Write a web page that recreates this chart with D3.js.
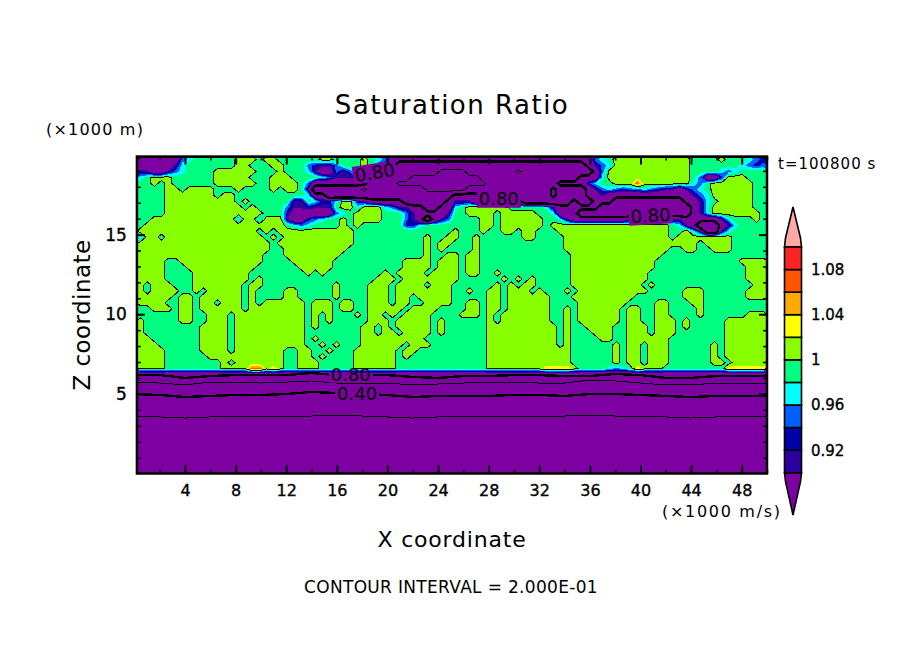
<!DOCTYPE html>
<html><head><meta charset="utf-8">
<script src="https://cdn.jsdelivr.net/npm/d3@7/dist/d3.min.js"></script>
<style>
html,body{margin:0;padding:0;background:#fff}
svg{display:block}
text{font-family:"DejaVu Sans",sans-serif;fill:#000}
</style></head><body>
<svg id="c" width="904" height="654"></svg>
<script>
// ---- chart text and tick values ----
const titleText = "Saturation Ratio";
const xTicksMajor = [4,8,12,16,20,24,28,32,36,40,44,48];
const xTicksMinor = [2,6,10,14,18,22,26,30,34,38,42,46,50];
const zTicksMajor = [5,10,15];
const zTicksMinor = [1,2,3,4,6,7,8,9,11,12,13,14,16,17,18,19];
const barBoundaries = [0.90,0.92,0.94,0.96,0.98,1.00,1.02,1.04,1.06,1.08,1.10];
const barColors = ["#2d00a0","#0000aa","#0060ff","#00ffff","#00ff80","#88ff00","#ffff00","#ffaa00","#ff5500","#ff2424"];
const barLabels = [0.92,0.96,1.00,1.04,1.08];
const underColor = "#7d00a0", overColor = "#ffa8a8";
// ---- saturation ratio by letter ----
const letterValue = {e:.55,d:.70,p:.85,i:.91,n:.93,b:.95,c:.97,g:.99,L:1.01,y:1.03,o:1.05,r:1.07};
// ---- field, top to bottom, run-length coded by letter ----
const fieldWest = [
"6p b c 6g 3L g 2L 6g 2L 4g L g c b 9p",
"5p i c 7g 2L 3g 2L 3g b n 2i b 3g L g b i p 8d",
"2i 2p i b c 4g 6L 3g L 3g c i 2p b i b g L g b i p 6d 2e",
"c g 3L 6g 5L 3g 3L 4g c b 3i b p 6d 6e",
"2g L g L 6g 6L 2g 4L g b 8p 4d 8e",
"4g 2L g 4L 3g L 4g L g 2L g i 7d e 8d 4e",
"4g 7L g 2L 10g c 2p 18d",
"4g 10L g L 6g 2i g c 2n c 2L n i 5p 6d p",
"4g 11L g L 4g b 2i n 3i g 2L c 3L c b 2i 2p 2d 2p",
"4g 14L 3g n 6p b c g L 3L 3g b i 4p i",
"2g 12L c 2L c 3L i 2p n b c 2g L g L 3L 3g b i p d p i b",
"g 20L g c b c 4g L g L 6g 2n c 4g",
"17L g L g 11L 14g",
"c 2L g 14L g L g 10L 10g L 2g L",
"19L g 11L 10g L g 2L",
"19L 2g 9L 11g L g L g",
"18L 3g 8L 12g L 2g L",
"4L 2g 12L 4g 6L 10g 4L g 3L",
"4L 3g 10L 6g 5L 10g 4L g 3L",
"4L 4g 8L 8g L g L 8g L g 4L g 3L",
"4L 4g 8L g L 16g 3L g 7L",
"L g 3L 3g 7L g 2L 10g L 4g 3L g 4L g 3L",
"L g 4L 2g L g 5L g L 4g 2L 5g L 4g 3L g 8L",
"5L g 2L g 6L g L 4g 2L 5g L 4g 3L g 2L g 5L",
"4L 2g 2L g 2L g 3L g L g 6L g 3L g 2L 2g 3L g 2L 2g 4L",
"2g 3L g 2L g 6L g 8L g 3L g 2L 2g 5L g 4L 2g",
"6g 2L 2g 3L g 10L g L g L 3g L g 2L g L g 4L 3g",
"L 5g 2L 2g 3L g L 9L g L g L 5g 3L g 5L g L g",
"L 8g 4L g 10L g L 6g 2L g L g L 4L g L g",
"L 8g 4L g 10L 8g 2L g 2L g 4L g L g",
"2L 7g 4L g 10L g L 6g 6L 3L 4g",
"3L 6g 4L g 10L 2g L g L 3g 6L g 3L 3g",
"4L 5g 4L g 7L 2g 2L 2g L 3g 6L g 2L 5g",
"4L 6g 11L 2g 2L g L 4g 6L g L 6g",
"4L 8g L g 7L 2g 2L L 5g 6L 8g",
"4L 8g 4L 2r L y L 2g 2L L 5g 6L 8g",
"45p"];
const fieldEast = [
"20p b c g 11L 4g L 2g g c b n",
"19d p i b c 11L 7g c b n b",
"2e 7d e 9d d p b 12L 4g c b c 4g",
"4e 14d 3p c 12L g b 2p n 3L 3g",
"5e 10d 4p n c 2g 3L r 7L c b g 6L 2g",
"2e 12d p 4d p i b c b n 2b c b n 2i p i b c g 6L 2g",
"5p 9d p 4d 2p i 12p i b c 6L 2g",
"3i 7p 7d p 2d 3p 10d 2p i c g 5L 2g",
"c g 6L 5g c i 6p 13d p i c 6L 2g",
"2g 4L g 5L 2g c 3p 16d p i c 7L g",
"4g 2L g 6L 2g c i 8p 2i 3n n 2i 5p i c 3g L g",
"4g 2L g 6L g 17L g c i p 3d p i c 4g",
"L 3g L 2g 2L g 2L 3g 16L 2g L c i 2d i c 5g",
"L 2g L 6g 2L 4g 15L g 4L 4L 5g",
"3g L 12g 17L 2L g 4L 5g",
"3g L 12g 15L 2g 2L 2g 3L 5g",
"L g 2L 13g 13L g 14g",
"L g 2L 13g 12L 12g 4L",
"L g 2L 13g 12L 13g 3L",
"L g 2L 2g L 10g 11L 14g 3L",
"L 6g L g L g L 5g 11L 14g 3L",
"6g L g L g 2L 5g 10L g L 14g 2L",
"2g L 2g 2L g 3L g L 3g L g 9L L 5g 3L 6g 3L",
"5g 2L g 6L 3g L 8L 7g 3L 6g 3L",
"2g 2L g 2L g 6L 4g 7L 4g 2L 3g 2L 9g",
"2g 2L g 2L g 6L 2g L g 6L g 2L 2g 2L 4g L 9g",
"g 3L g L g 7L 2g L g 6L g 2L 2g 2L 4g L 6g 3L",
"5g L g 7L 2g L g 6L g 2L 2g 3L g L 5g 6L",
"5g 10L g L 2g 4L 2g 3L g 3L g L 5g 6L",
"5g 10L g L 3g 3L 2g L 2L g 3L 7g 6L",
"5g 10L g L 4g 2L 2g 5L L 8g 6L",
"5g 10L g L 5g g L g 2L g 3L 6g L g 6L",
"5g 12L 6g L g 2L g 3L 6g L g 6L",
"5g 12L 6g L g 2L g 3L 6g L g 6L",
"5g 12L 6g L g 2L g 3L 6g 2L g 5L",
"5g 8L 4y L 4g c b c g y 3L 9g 6y",
"45p"];
// ---- lower contours, height (km) at every 2 km along x ----
const lowerX = [0,2,4,6,8,10,12,14,16,18,20,22,24,26,28,30,32,34,36,38,40,42,44,46,48,50];
const contour080 = [6.18,6.18,6.00,6.12,6.18,6.18,6.18,6.31,6.18,6.18,6.18,6.06,6.00,6.12,6.12,6.18,6.18,6.12,6.12,6.25,6.18,6.00,6.00,6.12,6.12,6.12];
const contour060 = [5.74,5.68,5.56,5.74,5.74,5.68,5.74,5.81,5.68,5.62,5.68,5.56,5.62,5.68,5.74,5.74,5.68,5.68,5.87,5.81,5.68,5.56,5.56,5.68,5.68,5.68];
const contour040 = [4.99,4.93,4.80,4.87,4.93,4.93,4.99,5.12,5.05,4.99,4.93,4.80,4.87,4.87,4.87,4.93,4.93,4.87,4.99,4.99,4.93,4.87,4.80,4.87,4.87,4.87];
const contour020 = [3.61,3.55,3.48,3.55,3.61,3.61,3.55,3.61,3.67,3.61,3.55,3.48,3.55,3.55,3.61,3.61,3.61,3.61,3.67,3.61,3.55,3.55,3.48,3.55,3.55,3.55];
const lineLevels = [0.6,0.8,1.0];
const lineWidths = {0.6:1,0.8:2.4,1:1};
const lowerLines = [[contour080,2.4],[contour060,1],[contour040,2.4],[contour020,1]];
const contourLabels = [
  {x:19.0,z:18.9,t:"0.80",r:-9,a:9,b:9},{x:28.8,z:17.25,t:"0.80",r:0,a:9,b:9},{x:40.8,z:16.2,t:"0.80",r:-3,a:9,b:9},
  {x:17.1,z:6.2,t:"0.80",r:0,a:2,b:8},{x:17.6,z:5.0,t:"0.40",r:0,a:8,b:8}];

// ---- scales ----
const svg = d3.select("#c");
const x = d3.scaleLinear([0,50],[134.4,767]);
const z = d3.scaleLinear([0,15],[473.5,234.6]);
const xMin=0.2, zTop=19.9, dz=0.375;
const plot = {l:x(xMin), r:x(50), t:z(zTop), b:z(0)};

// ---- decode the field ----
function decode(s){
  const out=[];
  (s.match(/\d*[a-zA-Z]/g)||[]).forEach(t=>{
    const n=t.length>1?+t.slice(0,-1):1, c=t[t.length-1];
    for(let i=0;i<n;i++) out.push(c);
  });
  while(out.length<45) out.push(out[out.length-1]);
  return out.slice(0,45);
}
const nx=90, ny=fieldWest.length;
const values=[];
for(let r=0;r<ny;r++){
  decode(fieldWest[r]).concat(decode(fieldEast[r])).forEach(c=>values.push(letterValue[c]));
}
const gx = i=>x(xMin+i*(50-xMin)/nx), gy = j=>z(zTop-j*dz);
const path = d3.geoPath(d3.geoTransform({point(a,b){this.stream.point(gx(a),gy(b));}}));

// ---- contour fills ----
const defs=svg.append("defs");
defs.append("clipPath").attr("id","clipLines").append("rect")
  .attr("x",plot.l).attr("y",plot.t).attr("width",plot.r-plot.l).attr("height",gy(ny)-plot.t-1.5);
defs.append("clipPath").attr("id","clipPlot").append("rect")
  .attr("x",plot.l).attr("y",plot.t).attr("width",plot.r-plot.l).attr("height",plot.b-plot.t);
svg.append("rect").attr("x",plot.l).attr("y",plot.t).attr("width",plot.r-plot.l).attr("height",plot.b-plot.t).attr("fill",underColor);
const fillColors = barColors.concat([overColor]);
const bands = d3.contours().size([nx,ny]).thresholds(barBoundaries)(values);
svg.append("g").attr("shape-rendering","crispEdges").selectAll("path").data(bands).join("path")
  .attr("d",path).attr("fill",(d,i)=>fillColors[i]);

// ---- contour lines ----
const lines = d3.contours().size([nx,ny]).thresholds(lineLevels)(values);
svg.append("g").attr("clip-path","url(#clipLines)").attr("shape-rendering","crispEdges")
  .selectAll("path").data(lines).join("path")
  .attr("d",path).attr("fill","none").attr("stroke","#000").attr("stroke-width",d=>lineWidths[d.value]);
const lineGen = d3.line().x((d,i)=>x(lowerX[i])).y(d=>z(d));
svg.append("g").attr("clip-path","url(#clipPlot)").attr("shape-rendering","crispEdges").selectAll("path").data(lowerLines).join("path")
  .attr("d",d=>lineGen(d[0])).attr("fill","none").attr("stroke","#000").attr("stroke-width",d=>d[1]);

// ---- contour labels, with the line broken behind them ----
const labG = svg.selectAll("g.lab").data(contourLabels).join("g").attr("class","lab")
  .attr("transform",d=>`translate(${x(d.x)},${z(d.z)}) rotate(${d.r})`);
labG.append("rect").attr("x",-22).attr("y",d=>-d.a).attr("width",44).attr("height",d=>d.a+d.b).attr("fill",underColor);
labG.append("text").attr("text-anchor","middle").attr("dy","0.36em").style("font-size","18px").text(d=>d.t);

// ---- frame and axes ----
function styleAxis(g,w){g.select(".domain").remove();g.selectAll("line").attr("stroke","#000").attr("stroke-width",w);}
const ax=svg.append("g");
ax.append("g").attr("transform",`translate(0,${plot.b})`)
  .call(d3.axisBottom(x).tickValues(xTicksMajor).tickSize(-8).tickFormat(d3.format("d")))
  .call(g=>{styleAxis(g,2);g.selectAll("text").attr("dy",null).attr("y",22).style("font-size","16px").style("fill","#000").style("stroke","#000").style("stroke-width",".35");});
ax.append("g").attr("transform",`translate(0,${plot.b})`)
  .call(d3.axisBottom(x).tickValues(xTicksMinor).tickSize(-4).tickFormat(""))
  .call(g=>styleAxis(g,1.5));
ax.append("g").attr("transform",`translate(0,${plot.t})`)
  .call(d3.axisTop(x).tickValues(xTicksMajor).tickSize(-8).tickFormat(""))
  .call(g=>styleAxis(g,2));
ax.append("g").attr("transform",`translate(0,${plot.t})`)
  .call(d3.axisTop(x).tickValues(xTicksMinor).tickSize(-4).tickFormat(""))
  .call(g=>styleAxis(g,1.5));
ax.append("g").attr("transform",`translate(${plot.l},0)`)
  .call(d3.axisLeft(z).tickValues(zTicksMajor).tickSize(-8).tickFormat(d3.format("d")))
  .call(g=>{styleAxis(g,2);g.selectAll("text").attr("x",-10).style("font-size","17px").style("fill","#000").style("stroke","#000").style("stroke-width",".35");});
ax.append("g").attr("transform",`translate(${plot.l},0)`)
  .call(d3.axisLeft(z).tickValues(zTicksMinor).tickSize(-4).tickFormat(""))
  .call(g=>styleAxis(g,1.5));
ax.append("g").attr("transform",`translate(${plot.r},0)`)
  .call(d3.axisRight(z).tickValues(zTicksMajor).tickSize(-8).tickFormat(""))
  .call(g=>styleAxis(g,2));
ax.append("g").attr("transform",`translate(${plot.r},0)`)
  .call(d3.axisRight(z).tickValues(zTicksMinor).tickSize(-4).tickFormat(""))
  .call(g=>styleAxis(g,1.5));
svg.append("rect").attr("x",plot.l).attr("y",plot.t).attr("width",plot.r-plot.l).attr("height",plot.b-plot.t)
  .attr("fill","none").attr("stroke","#000").attr("stroke-width",2.5);

// ---- colour bar ----
const bar = d3.scaleLinear([0.90,1.10],[472.7,247]);
const bx0=784.5,bx1=801.5,bm=(bx0+bx1)/2;
const cb=svg.append("g");
const tri=(y0,y1,yApex)=>[[bx0,y0],[bx0+1,y1],[bm,yApex],[bx1-1,y1],[bx1,y0]];
cb.selectAll("path").data([
  {p:tri(bar(1.10),bar(1.10)-9,207),f:overColor},
  {p:tri(bar(0.90),bar(0.90)+9,515),f:underColor}]).join("path")
  .attr("d",d=>d3.line()(d.p)+"Z").attr("fill",d=>d.f).attr("stroke","#000").attr("stroke-width",1.6);
cb.selectAll("rect").data(barColors).join("rect")
  .attr("x",bx0).attr("width",bx1-bx0)
  .attr("y",(d,i)=>bar(barBoundaries[i+1])).attr("height",(d,i)=>bar(barBoundaries[i])-bar(barBoundaries[i+1]))
  .attr("fill",d=>d).attr("stroke","#000").attr("stroke-width",1.6);
cb.selectAll("text").data(barLabels).join("text")
  .attr("x",811).attr("y",d=>bar(d)).attr("dy","0.36em").style("font-size","15px").style("stroke","#000").style("stroke-width",".35")
  .text(d=>d===1?"1":d3.format(".2f")(d));

// ---- text ----
const t=(s,xp,yp,size,anchor,ls)=>svg.append("text").attr("x",xp).attr("y",yp).attr("text-anchor",anchor||"start").style("font-size",size+"px").style("letter-spacing",ls+"px").text(s);
t(titleText,452,114,26,"middle",1.5);
t("(×1000 m)",46,135,16,"start",1.2);
t("t=100800 s",778,169,15,"start",1);
t("(×1000 m/s)",662,517,16,"start",1.7);
t("X coordinate",452,547,22,"middle",0.8);
t("Z coordinate",0,0,23,"middle",0.45).attr("transform","translate(90,315) rotate(-90)");
t("CONTOUR INTERVAL = 2.000E-01",451,593,17,"middle",0.32);
</script>
</body></html>
